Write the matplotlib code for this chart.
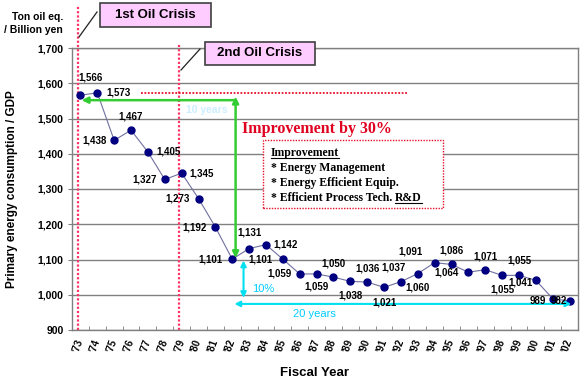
import numpy as np
import matplotlib
from matplotlib import pyplot as plt
from matplotlib.lines import Line2D
from matplotlib.patches import Rectangle
plt.switch_backend('agg')

plt.rcParams['font.family'] = ['Liberation Sans', 'DejaVu Sans']

# data
years = ["'73", "'74", "'75", "'76", "'77", "'78", "'79", "'80", "'81", "'82",
         "'83", "'84", "'85", "'86", "'87", "'88", "'89", "'90", "'91", "'92",
         "'93", "'94", "'95", "'96", "'97", "'98", "'99", "'00", "'01", "'02"]
intensity = [1566, 1573, 1438, 1467, 1405, 1327, 1345, 1273, 1192, 1101,
             1131, 1142, 1101, 1059, 1059, 1050, 1038, 1036, 1021, 1037,
             1060, 1091, 1086, 1064, 1071, 1055, 1055, 1041, 989, 982]
y_ticks = [900, 1000, 1100, 1200, 1300, 1400, 1500, 1600, 1700]
improvement_lines = ["* Energy Management", "* Energy Efficient Equip."]

# label offsets (pixels) for each data label
label_off = [(10, 18), (21, 0), (-20, 0), (0, 14), (21, 0), (-20, 0), (20, 0),
             (-21, 0), (-21, 0), (-22, 0), (0, 16), (20, 0), (-22, 0), (-20, 0),
             (0, -13), (0, 14), (0, -14), (0, 14), (0, -15), (-7, 14), (0, -14),
             (-24, 11), (0, 14), (-22, 0), (0, 13), (0, -14), (0, 15), (-15, -2),
             (-15, -2), (-11, 0)]

W, H = 585, 383
fig = plt.figure(figsize=(W / 100, H / 100), dpi=100)
ax = fig.add_axes([72 / W, 53 / H, 506 / W, 282 / H])

x = np.arange(len(years))
ax.set_xlim(-0.5, len(years) - 0.5)
ax.set_ylim(900, 1700)
ax.set_yticks(y_ticks)
ax.set_yticklabels([f"{v:,}" for v in y_ticks], fontsize=7.5, fontweight='bold')
ax.yaxis.grid(True, color='#808080', lw=1)
ax.set_axisbelow(True)
for s in ax.spines.values():
    s.set_color('#808080')
    s.set_linewidth(1)
ax.tick_params(axis='y', length=3, color='#808080', pad=3)

ax.set_xticks(x)
ax.set_xticklabels(years, fontsize=7, fontweight='bold')
ax.tick_params(axis='x', which='major', length=0, pad=7)
ax.set_xticks(x[:-1] + 0.5, minor=True)
ax.tick_params(axis='x', which='minor', length=3, direction='in', color='#808080')
for lbl in ax.get_xticklabels():
    lbl.set_rotation(70)
    lbl.set_rotation_mode('anchor')
    lbl.set_ha('right')
    lbl.set_va('center')

ax.set_ylabel('Primary energy consumption / GDP', fontsize=8.5, fontweight='bold')
ax.yaxis.set_label_coords(-0.107, 0.5)

# oil crisis markers
dot = (0, (1, 0.9))
ax.plot([-0.15, -0.15], [900, 1822], color='#FF3366', lw=1.6, ls=dot, clip_on=False, zorder=1)
ax.plot([5.85, 5.85], [900, 1714], color='#FF3366', lw=1.6, ls=dot, clip_on=False, zorder=1)
ax.plot([3.6, 19.4], [1573, 1573], color='#E8102A', lw=1.3, ls=dot, zorder=1)

# series
ax.plot(x, intensity, color='#7070A0', lw=0.8, marker='o', ms=5,
        mfc='#000080', mec='#000080', zorder=3)
for i, v in enumerate(intensity):
    ax.annotate(f"{v:,}", (i, v), xytext=label_off[i], textcoords='offset pixels',
                ha='center', va='center', fontsize=7, fontweight='bold', zorder=4)

# green arrows: 10 years / 30%
green = '#33CC33'
ax.annotate('', xy=(0.07, 1552), xytext=(9.2, 1552),
            arrowprops=dict(arrowstyle='-|>', color=green, lw=1.8,
                            shrinkA=0, shrinkB=0, mutation_scale=9))
ax.annotate('', xy=(9.2, 1104), xytext=(9.2, 1562),
            arrowprops=dict(arrowstyle='<|-|>', color=green, lw=1.8,
                            shrinkA=0, shrinkB=0, mutation_scale=9))
ax.text(7.5, 1524, '10 years', color='#CCEEFF', fontsize=7.5, fontweight='bold',
        ha='center', va='center')

# cyan arrows: 10% / 20 years
cyan = '#00E0F0'
ax.annotate('', xy=(9.67, 991), xytext=(9.67, 1097),
            arrowprops=dict(arrowstyle='<|-|>', color=cyan, lw=1.5,
                            shrinkA=0, shrinkB=0, mutation_scale=8))
ax.annotate('', xy=(9.13, 974), xytext=(29.1, 974),
            arrowprops=dict(arrowstyle='<|-|>', color=cyan, lw=1.5,
                            shrinkA=0, shrinkB=0, mutation_scale=8), annotation_clip=False)
ax.text(10.15, 1016, '10%', color='#00CCFF', fontsize=8, ha='left', va='center')
ax.text(13.9, 945, '20 years', color='#00CCFF', fontsize=8, ha='center', va='center')

# improvement texts
serif = ['Liberation Serif', 'DejaVu Serif']
ax.text(9.55, 1470, 'Improvement by 30%', color='#E00020', fontsize=11.5,
        fontweight='bold', family=serif, ha='left', va='center')
ax.add_patch(Rectangle((10.85, 1246), 10.65, 193, fc='white', ec='#E8102A',
                       lw=1, ls=(0, (1, 1)), zorder=5))
t0 = ax.text(11.3, 1402, 'Improvement', fontsize=8.5, fontweight='bold', family=serif,
             ha='left', va='center', zorder=6)
for k, line in enumerate(improvement_lines):
    ax.text(11.3, 1360 - 43 * k, line, fontsize=8.5, fontweight='bold', family=serif,
            ha='left', va='center', zorder=6)
t3 = ax.text(11.3, 1274, '* Efficient Process Tech.', fontsize=8.5, fontweight='bold',
             family=serif, ha='left', va='center', zorder=6)
t4 = ax.annotate('R&D', xy=(1, 0), xycoords=t3, xytext=(3, 0), textcoords='offset pixels',
                 fontsize=8.5, fontweight='bold', family=serif, ha='left', va='bottom',
                 zorder=6)

# outside texts
fig.text(63 / W, 1 - 17 / H, 'Ton oil eq.', fontsize=7.5, fontweight='bold', ha='right', va='center')
fig.text(63 / W, 1 - 30 / H, '/ Billion yen', fontsize=7.5, fontweight='bold', ha='right', va='center')
fig.text(315 / W, 1 - 373 / H, 'Fiscal Year', fontsize=9.5, fontweight='bold', ha='center', va='center')

for (x0, y0, x1, y1, txt) in [(100, 3, 211, 27, '1st Oil Crisis'), (205, 42, 315, 65, '2nd Oil Crisis')]:
    fig.add_artist(Rectangle((x0 / W, 1 - y1 / H), (x1 - x0) / W, (y1 - y0) / H,
                             transform=fig.transFigure, fc='#FFCCFF', ec='#404040', lw=1.2))
    fig.text((x0 + x1) / 2 / W, 1 - (y0 + y1) / 2 / H, txt, fontsize=9.5, fontweight='bold',
             ha='center', va='center')
for (xa, ya, xb, yb) in [(79, 37, 97, 12), (181, 70, 200, 49)]:
    fig.add_artist(Line2D([xa / W, xb / W], [1 - ya / H, 1 - yb / H], transform=fig.transFigure,
                          color='#202020', lw=0.9))

# underlines
fig.canvas.draw()
r = fig.canvas.get_renderer()
for t in (t0, t4):
    bb = t.get_window_extent(r)
    fig.add_artist(Line2D([bb.x0 / W, bb.x1 / W], [(bb.y0 + 1.5) / H] * 2,
                          transform=fig.transFigure, color='black', lw=0.8, zorder=7))

plt.savefig('out.png', dpi=100)
